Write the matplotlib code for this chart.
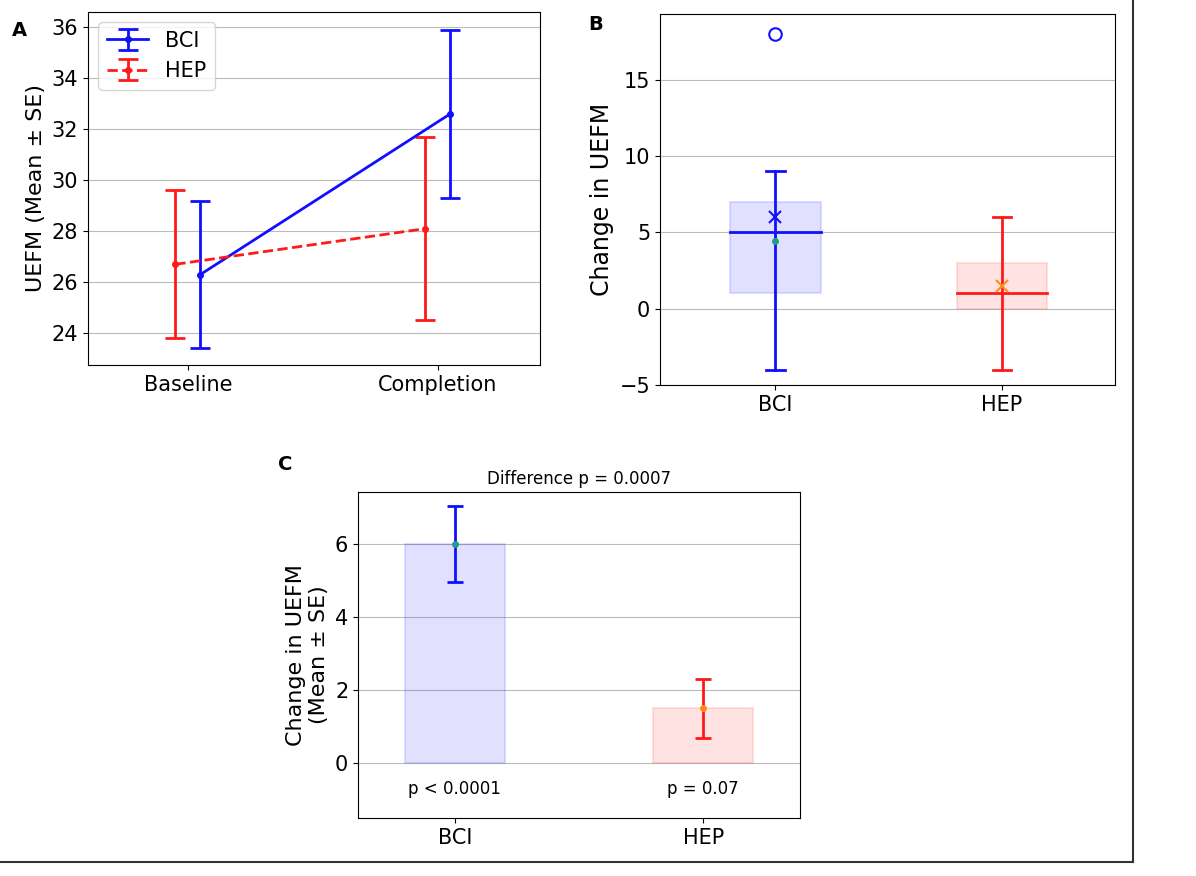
import numpy as np
import matplotlib.pyplot as plt
from matplotlib.patches import Rectangle

# Panel A data
timepoints = ["Baseline", "Completion"]
bci_mean = [26.3, 32.6]
bci_se = [2.9, 3.3]
hep_mean = [26.7, 28.1]
hep_se = [2.9, 3.6]

# Panel B data (box summaries)
groups = ["BCI", "HEP"]
box_q1 = [1, 0]
box_q3 = [7, 3]
box_med = [5, 1]
whisk_lo = [-4, -4]
whisk_hi = [9, 6]
box_mean = [6, 1.5]
box_dot = [4.4, 1.5]
bci_outlier = [18]

# Panel C data
change_mean = [6.0, 1.5]
change_se = [1.05, 0.8]
pvals = ["p < 0.0001", "p = 0.07"]

blue = "#1010ff"
red = "#ff1a1a"
fs = 15
lfs = 16

fig = plt.figure(figsize=(11.96, 8.76), dpi=100)
W, H = 1196, 876
def ax_px(x0, y0, x1, y1):
    return fig.add_axes([x0 / W, 1 - y1 / H, (x1 - x0) / W, (y1 - y0) / H])

# A
axA = ax_px(88, 12, 540, 365)
x = np.arange(2)
axA.errorbar(x + 0.05, bci_mean, yerr=bci_se, color=blue, marker="o", ms=4,
             lw=2, capsize=7, capthick=2, label="BCI")
axA.errorbar(x - 0.05, hep_mean, yerr=hep_se, color=red, marker="o", ms=4,
             lw=2, ls="--", capsize=7, capthick=2, label="HEP")
axA.set_xlim(-0.4, 1.41)
axA.set_ylim(22.75, 36.6)
axA.set_xticks(x, timepoints)
axA.set_yticks([24, 26, 28, 30, 32, 34, 36])
axA.set_ylabel("UEFM (Mean ± SE)", fontsize=lfs)
axA.tick_params(labelsize=fs)
axA.yaxis.grid(True, color="#bbbbbb")
axA.set_axisbelow(True)
axA.legend(loc="upper left", fontsize=fs)

# B
axB = ax_px(660, 14, 1115, 385)
cols = [blue, red]
for i in range(2):
    c = cols[i]
    axB.add_patch(Rectangle((i - 0.2, box_q1[i]), 0.4, box_q3[i] - box_q1[i],
                            facecolor=c, alpha=0.12, edgecolor=c, lw=1.5))
    axB.plot([i - 0.2, i + 0.2], [box_med[i]] * 2, color=c, lw=2)
    axB.plot([i, i], [whisk_lo[i], whisk_hi[i]], color=c, lw=2)
    axB.plot([i - 0.04, i + 0.04], [whisk_lo[i]] * 2, color=c, lw=2)
    axB.plot([i - 0.04, i + 0.04], [whisk_hi[i]] * 2, color=c, lw=2)
axB.plot(0, box_mean[0], "x", color=blue, ms=9, mew=1.5)
axB.plot(1, box_mean[1], "x", color="#ff8c1a", ms=9, mew=1.5)
axB.plot(0, box_dot[0], "o", color="#1f9e89", ms=4)
axB.plot([0] * len(bci_outlier), bci_outlier, "o", mfc="none", mec=blue, ms=9, mew=1.5)
axB.set_xlim(-0.51, 1.5)
axB.set_ylim(-5, 19.3)
axB.set_xticks([0, 1], groups)
axB.set_yticks([-5, 0, 5, 10, 15])
axB.set_ylabel("Change in UEFM", fontsize=lfs + 1)
axB.tick_params(labelsize=fs)
axB.yaxis.grid(True, color="#bbbbbb")
axB.set_axisbelow(True)

# C
axC = ax_px(358, 492, 800, 818)
for i in range(2):
    c = cols[i]
    axC.bar(i, change_mean[i], width=0.4, color=c, alpha=0.12, edgecolor=c, lw=1.5)
    axC.errorbar(i, change_mean[i], yerr=change_se[i], color=c, lw=2, capsize=6,
                 capthick=2, fmt="none")
    axC.plot(i, change_mean[i], "o", color="#1f9e89" if i == 0 else "#ff8c1a", ms=4)
    axC.text(i, -0.7, pvals[i], ha="center", va="center", fontsize=12)
axC.set_xlim(-0.39, 1.39)
axC.set_ylim(-1.5, 7.42)
axC.set_xticks([0, 1], groups)
axC.set_yticks([0, 2, 4, 6])
axC.set_ylabel("Change in UEFM\n(Mean ± SE)", fontsize=lfs)
axC.set_title("Difference p = 0.0007", fontsize=12)
axC.tick_params(labelsize=fs)
axC.yaxis.grid(True, color="#bbbbbb")
axC.set_axisbelow(True)

# Panel letters
fig.text(12 / W, 1 - 30 / H, "A", fontsize=14, fontweight="bold", va="center")
fig.text(588 / W, 1 - 25 / H, "B", fontsize=14, fontweight="bold", va="center")
fig.text(278 / W, 1 - 465 / H, "C", fontsize=14, fontweight="bold", va="center")

# frame lines
fig.add_artist(plt.Line2D([1133 / W, 1133 / W], [1, 1 - 862 / H], color="#333333", lw=1.5))
fig.add_artist(plt.Line2D([0, 1133 / W], [1 - 862 / H, 1 - 862 / H], color="#333333", lw=1.5))

fig.savefig("out.png", dpi=100)
